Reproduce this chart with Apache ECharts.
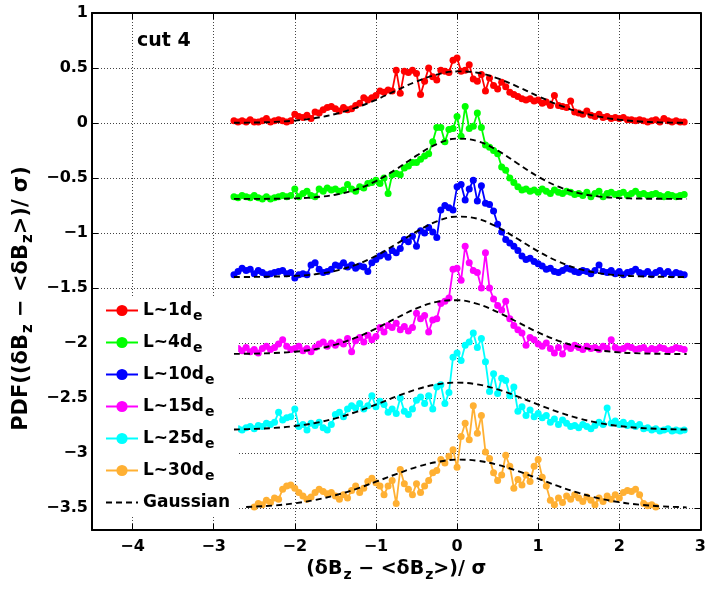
<!DOCTYPE html>
<html>
<head>
<meta charset="utf-8">
<script src="https://cdn.jsdelivr.net/npm/echarts@6/dist/echarts.min.js"></script>
<style>
  html, body { margin: 0; padding: 0; background: #fff; }
  #chart { width: 709px; height: 591px; }
</style>
</head>
<body>
<div id="chart"></div>
<script>
// sampling of the measured PDFs (x = start + i * step)
const xStart = -2.75;
const xStep = 0.05;
const orangeStart = -2.5;

const seriesNames = ['L~1d', 'L~4d', 'L~10d', 'L~15d', 'L~25d', 'L~30d'];
const seriesColors = ['#ff0000', '#00ff00', '#0000ff', '#ff00ff', '#00ffff', '#ffb033'];

const red = [
  0.02, 0.01, 0.02, 0.01, 0.03, 0.01, 0.01, 0.02, 0.04, 0.01,
  0.02, 0.03, 0.02, 0.01, 0.02, 0.08, 0.06, 0.05, 0.07, 0.04,
  0.10, 0.09, 0.12, 0.14, 0.15, 0.13, 0.11, 0.14, 0.12, 0.13,
  0.16, 0.18, 0.23, 0.21, 0.23, 0.25, 0.29, 0.28, 0.30, 0.29,
  0.48, 0.27, 0.47, 0.46, 0.48, 0.45, 0.26, 0.38, 0.50, 0.42,
  0.39, 0.48, 0.47, 0.46, 0.57, 0.59, 0.47, 0.48, 0.53, 0.40,
  0.38, 0.44, 0.29, 0.41, 0.34, 0.31, 0.37, 0.33, 0.28, 0.26,
  0.24, 0.22, 0.21, 0.22, 0.20, 0.21, 0.18, 0.19, 0.16, 0.25,
  0.16, 0.15, 0.14, 0.20, 0.10, 0.09, 0.08, 0.11, 0.07, 0.06,
  0.08, 0.05, 0.06, 0.04, 0.05, 0.04, 0.05, 0.03, 0.03, 0.02,
  0.03, 0.02, 0.01, 0.02, 0.03, 0.01, 0.04, 0.02, 0.01, 0.02,
  0.01, 0.01
];
const green = [
  -0.67, -0.68, -0.66, -0.67, -0.68, -0.66, -0.68, -0.69, -0.67, -0.69,
  -0.68, -0.67, -0.66, -0.67, -0.66, -0.60, -0.67, -0.64, -0.62, -0.66,
  -0.67, -0.60, -0.62, -0.59, -0.61, -0.60, -0.62, -0.61, -0.56, -0.60,
  -0.62, -0.58, -0.59, -0.55, -0.54, -0.52, -0.55, -0.50, -0.64, -0.47,
  -0.46, -0.47, -0.41, -0.39, -0.36, -0.36, -0.33, -0.30, -0.28, -0.17,
  -0.04, -0.04, -0.17, -0.06, -0.05, 0.06, -0.12, 0.15, -0.05, -0.03,
  0.09, -0.04, -0.20, -0.22, -0.25, -0.28, -0.40, -0.43, -0.50, -0.54,
  -0.58, -0.61, -0.60, -0.62, -0.61, -0.63, -0.60, -0.62, -0.64, -0.61,
  -0.63, -0.64, -0.62, -0.63, -0.65, -0.64, -0.66, -0.63, -0.67, -0.64,
  -0.62, -0.67, -0.64, -0.63, -0.65, -0.64, -0.63, -0.66, -0.64, -0.62,
  -0.65, -0.64, -0.66, -0.65, -0.64, -0.66, -0.67, -0.65, -0.66, -0.67,
  -0.66, -0.65
];
const blue = [
  -1.38, -1.35, -1.32, -1.34, -1.33, -1.37, -1.34, -1.36, -1.38, -1.37,
  -1.36, -1.35, -1.34, -1.37, -1.36, -1.41, -1.38, -1.37, -1.38, -1.29,
  -1.27, -1.33, -1.36, -1.35, -1.33, -1.29, -1.30, -1.27, -1.31, -1.29,
  -1.32, -1.30, -1.31, -1.35, -1.27, -1.24, -1.21, -1.19, -1.22, -1.16,
  -1.18, -1.14, -1.06, -1.08, -1.03, -1.12, -0.98, -1.00, -0.95, -0.99,
  -1.04, -0.79, -0.75, -0.77, -0.79, -0.58, -0.56, -0.70, -0.60, -0.52,
  -0.71, -0.57, -0.73, -0.74, -0.80, -0.92, -0.99, -1.06, -1.09, -1.12,
  -1.16, -1.21, -1.24, -1.23, -1.26, -1.28, -1.30, -1.33, -1.32, -1.35,
  -1.36, -1.34, -1.32, -1.33, -1.35, -1.36, -1.34, -1.35, -1.37, -1.34,
  -1.29, -1.35, -1.36, -1.34, -1.37, -1.35, -1.38, -1.36, -1.35, -1.33,
  -1.36, -1.37, -1.35, -1.38, -1.36, -1.34, -1.37, -1.35, -1.38, -1.36,
  -1.37, -1.38
];
const magenta = [
  -2.08, -2.05, -2.07, -2.04, -2.08, -2.06, -2.09, -2.05, -2.03, -2.06,
  -2.04, -2.01, -1.97, -2.03, -2.06, -2.05, -2.03, -2.07, -2.05, -2.08,
  -2.04, -2.01, -1.99, -2.03, -2.00, -2.02, -1.99, -2.01, -1.96, -2.08,
  -1.98, -1.95, -1.99, -1.93, -1.97, -1.94, -1.86, -1.90, -1.84, -1.86,
  -1.82, -1.88, -1.85, -1.89, -1.86, -1.73, -1.78, -1.75, -1.90, -1.79,
  -1.78, -1.64, -1.62, -1.59, -1.33, -1.32, -1.43, -1.12, -1.27, -1.34,
  -1.36, -1.50, -1.18, -1.50, -1.60, -1.66, -1.70, -1.62, -1.78, -1.84,
  -1.88, -1.91, -2.02, -1.95, -1.97, -2.01, -2.03, -2.00, -2.05, -2.09,
  -2.04, -2.10, -2.03, -2.05, -2.02, -2.04, -2.06, -2.03, -2.05, -2.04,
  -2.06, -2.03, -2.05, -1.97, -2.04, -2.06, -2.05, -2.03, -2.04, -2.06,
  -2.05, -2.04, -2.07, -2.05, -2.06, -2.04, -2.05, -2.07, -2.06, -2.04,
  -2.05, -2.06
];
const cyan = [
  -2.79, -2.78, -2.79, -2.77, -2.76, -2.78, -2.75, -2.76, -2.73, -2.74,
  -2.72, -2.63, -2.70, -2.68, -2.67, -2.60, -2.76, -2.74, -2.79, -2.73,
  -2.75, -2.72, -2.77, -2.79, -2.74, -2.65, -2.63, -2.67, -2.60, -2.57,
  -2.59, -2.55, -2.60, -2.57, -2.48, -2.58, -2.53, -2.56, -2.63, -2.60,
  -2.64, -2.50, -2.62, -2.65, -2.60, -2.52, -2.49, -2.55, -2.48, -2.60,
  -2.40, -2.38, -2.55, -2.45, -2.13, -2.09, -2.16, -2.02, -1.99, -1.91,
  -2.04, -1.96, -2.17, -2.44, -2.28, -2.46, -2.32, -2.34, -2.48, -2.40,
  -2.62, -2.58, -2.66, -2.61, -2.67, -2.64, -2.68, -2.66, -2.72, -2.69,
  -2.74, -2.70, -2.73, -2.76, -2.75, -2.77, -2.74, -2.76, -2.78, -2.75,
  -2.72, -2.74, -2.59, -2.73, -2.71, -2.74, -2.72, -2.75, -2.73, -2.76,
  -2.74, -2.78, -2.77, -2.79, -2.78, -2.80, -2.79, -2.78, -2.80, -2.79,
  -2.80, -2.79
];
const orange = [
  -3.49, -3.46, -3.47, -3.43, -3.45, -3.41, -3.42, -3.33, -3.30, -3.29,
  -3.32, -3.36, -3.39, -3.42, -3.40, -3.36, -3.33, -3.35, -3.37, -3.36,
  -3.39, -3.42, -3.38, -3.41, -3.34, -3.30, -3.36, -3.32, -3.26, -3.23,
  -3.27, -3.30, -3.38, -3.30, -3.25, -3.46, -3.15, -3.28, -3.33, -3.38,
  -3.28, -3.36, -3.30, -3.25, -3.18, -3.16, -3.06, -3.09, -3.03, -2.97,
  -3.13, -2.85, -2.73, -2.88, -2.57, -2.82, -2.66, -2.99, -3.05, -3.18,
  -3.25, -3.20, -3.02, -3.12, -3.32, -3.24, -3.29, -3.20, -3.26, -3.12,
  -3.06, -3.22, -3.30, -3.43, -3.47, -3.41, -3.45, -3.39, -3.42, -3.38,
  -3.41, -3.44, -3.40, -3.43, -3.47, -3.41, -3.44, -3.39, -3.42, -3.38,
  -3.41, -3.36, -3.34, -3.35, -3.33, -3.38, -3.46, -3.48, -3.47, -3.49
];

// Gaussian reference curves, read at these x positions
const gaussX = [-2.75, -2.5, -2.25, -2, -1.75, -1.5, -1.25, -1, -0.75, -0.5, -0.25, 0,
  0.25, 0.5, 0.75, 1, 1.25, 1.5, 1.75, 2, 2.25, 2.5, 2.75, 2.83];
const gaussXOrange = [-2.6, -2.5, -2.25, -2, -1.75, -1.5, -1.25, -1, -0.75, -0.5, -0.25, 0,
  0.25, 0.5, 0.75, 1, 1.25, 1.5, 1.75, 2, 2.25, 2.5, 2.75, 2.83];
const gaussRed = [0.002, 0.004, 0.010, 0.022, 0.045, 0.082, 0.138, 0.211, 0.296, 0.377, 0.440, 0.469,
  0.457, 0.406, 0.329, 0.244, 0.165, 0.102, 0.058, 0.030, 0.014, 0.006, 0.002, 0.001];
const gaussGreen = [-0.690, -0.690, -0.688, -0.685, -0.675, -0.652, -0.606, -0.528, -0.420, -0.297, -0.192, -0.142,
  -0.164, -0.250, -0.370, -0.488, -0.579, -0.637, -0.668, -0.682, -0.687, -0.689, -0.690, -0.690];
const gaussBlue = [-1.400, -1.399, -1.396, -1.390, -1.375, -1.344, -1.290, -1.208, -1.100, -0.988, -0.895, -0.851,
  -0.870, -0.947, -1.055, -1.167, -1.260, -1.326, -1.365, -1.385, -1.394, -1.398, -1.400, -1.400];
const gaussMagenta = [-2.099, -2.097, -2.091, -2.079, -2.056, -2.015, -1.952, -1.869, -1.774, -1.686, -1.626, -1.611,
  -1.645, -1.719, -1.812, -1.904, -1.980, -2.034, -2.067, -2.085, -2.094, -2.098, -2.100, -2.100];
const gaussCyan = [-2.786, -2.781, -2.772, -2.755, -2.727, -2.685, -2.628, -2.560, -2.487, -2.422, -2.376, -2.360,
  -2.376, -2.422, -2.487, -2.560, -2.628, -2.685, -2.727, -2.755, -2.772, -2.781, -2.786, -2.787];
const gaussOrange = [-3.491, -3.488, -3.477, -3.457, -3.427, -3.384, -3.328, -3.261, -3.192, -3.128, -3.082, -3.060,
  -3.070, -3.107, -3.165, -3.233, -3.302, -3.363, -3.412, -3.447, -3.470, -3.484, -3.492, -3.494];

const FONT = '"DejaVu Sans", Verdana, sans-serif';

function pairs(start, ys) {
  return ys.map(function (y, i) {
    return [Math.round((start + i * xStep) * 1000) / 1000, y];
  });
}
function zip(xs, ys) {
  return xs.map(function (x, i) { return [x, ys[i]]; });
}
// tick label text: MATLAB style minus, hide the non-round boundary ticks
function tickText(v, step) {
  if (Math.abs(v / step - Math.round(v / step)) > 1e-6) return '';
  if (Math.abs(v) < 1e-9) return '0';
  return (v < 0 ? '\u2212' : '') + Math.abs(v);
}

const measured = [red, green, blue, magenta, cyan, orange];
const gauss = [gaussRed, gaussGreen, gaussBlue, gaussMagenta, gaussCyan, gaussOrange];

const series = [];
measured.forEach(function (ys, k) {
  series.push({
    name: seriesNames[k],
    type: 'line',
    data: pairs(k === 5 ? orangeStart : xStart, ys),
    symbol: 'circle',
    symbolSize: 7,
    showSymbol: true,
    color: seriesColors[k],
    lineStyle: { width: 1.8, color: seriesColors[k] },
    itemStyle: { color: seriesColors[k] },
    z: 3
  });
});
gauss.forEach(function (ys, k) {
  series.push({
    name: 'Gaussian',
    type: 'line',
    data: zip(k === 5 ? gaussXOrange : gaussX, ys),
    smooth: 0.4,
    symbol: 'none',
    color: '#000',
    lineStyle: { width: 1.9, color: '#000', type: [6, 4] },
    z: 4
  });
});

const chart = echarts.init(document.getElementById('chart'), null, { renderer: 'canvas' });
chart.setOption({
  animation: false,
  backgroundColor: '#fff',
  title: {
    text: 'cut 4',
    left: 137,
    top: 32,
    padding: 0,
    textStyle: { fontFamily: FONT, fontSize: 19, fontWeight: 'bold', color: '#000' }
  },
  grid: { left: 92, right: 5, top: 13, bottom: 61 },
  legend: {
    orient: 'vertical',
    left: 93,
    top: 296,
    padding: [6, 8, 6, 12],
    itemWidth: 32,
    itemHeight: 14,
    itemGap: 11,
    backgroundColor: '#fff',
    selectedMode: false,
    data: seriesNames.concat([{ name: 'Gaussian', itemStyle: { opacity: 0 } }]),
    formatter: function (name) {
      if (name === 'Gaussian') return '{t|Gaussian}';
      return '{t|' + name + '}{s|e}';
    },
    textStyle: {
      fontFamily: FONT, fontSize: 17, fontWeight: 'bold', color: '#000',
      rich: {
        t: { fontSize: 17, fontWeight: 'bold', fontFamily: FONT, color: '#000' },
        s: { fontSize: 14, fontWeight: 'bold', fontFamily: FONT, color: '#000', padding: [11, 0, 0, 1] }
      }
    }
  },
  xAxis: [{
    type: 'value',
    min: -4.5,
    max: 3,
    splitNumber: 8,
    name: '{t|(δB}{s|z}{t| − <δB}{s|z}{t|>)/ σ}',
    nameLocation: 'middle',
    nameGap: 24,
    nameTextStyle: {
      rich: {
        t: { fontSize: 19, fontWeight: 'bold', fontFamily: FONT, color: '#000' },
        s: { fontSize: 14, fontWeight: 'bold', fontFamily: FONT, color: '#000', padding: [12, 0, 0, 1] }
      }
    },
    axisLine: { show: true, onZero: false, lineStyle: { color: '#000', width: 2 } },
    axisTick: { show: true, inside: true, length: 6, lineStyle: { color: '#000', width: 1 } },
    axisLabel: {
      margin: 9, color: '#000', fontFamily: FONT, fontSize: 16, fontWeight: 'bold',
      formatter: function (v) { return tickText(v, 1); }
    },
    splitLine: { show: true, lineStyle: { color: '#444', width: 1, type: [1, 2] } }
  }, {
    type: 'value',
    position: 'top',
    min: -4.5,
    max: 3,
    splitNumber: 8,
    axisLine: { show: true, onZero: false, lineStyle: { color: '#000', width: 2 } },
    axisTick: { show: true, inside: true, length: 6, lineStyle: { color: '#000', width: 1 } },
    axisLabel: { show: false },
    splitLine: { show: false }
  }],
  yAxis: [{
    type: 'value',
    min: -3.7,
    max: 1,
    splitNumber: 9,
    name: '{t|PDF((δB}{s|z}{t| − <δB}{s|z}{t|>)/ σ)}',
    nameLocation: 'middle',
    nameGap: 48,
    nameTextStyle: {
      padding: [0, 54, 0, 0],
      rich: {
        t: { fontSize: 21, fontWeight: 'bold', fontFamily: FONT, color: '#000' },
        s: { fontSize: 15, fontWeight: 'bold', fontFamily: FONT, color: '#000', padding: [13, 0, 0, 1] }
      }
    },
    axisLine: { show: true, onZero: false, lineStyle: { color: '#000', width: 2 } },
    axisTick: { show: true, inside: true, length: 6, lineStyle: { color: '#000', width: 1 } },
    axisLabel: {
      margin: 4, color: '#000', fontFamily: FONT, fontSize: 16, fontWeight: 'bold',
      formatter: function (v) { return tickText(v, 0.5); }
    },
    splitLine: { show: true, lineStyle: { color: '#444', width: 1, type: [1, 2] } }
  }, {
    type: 'value',
    position: 'right',
    min: -3.7,
    max: 1,
    splitNumber: 9,
    axisLine: { show: true, onZero: false, lineStyle: { color: '#000', width: 2 } },
    axisTick: { show: true, inside: true, length: 6, lineStyle: { color: '#000', width: 1 } },
    axisLabel: { show: false },
    splitLine: { show: false }
  }],
  series: series
});
</script>
</body>
</html>
